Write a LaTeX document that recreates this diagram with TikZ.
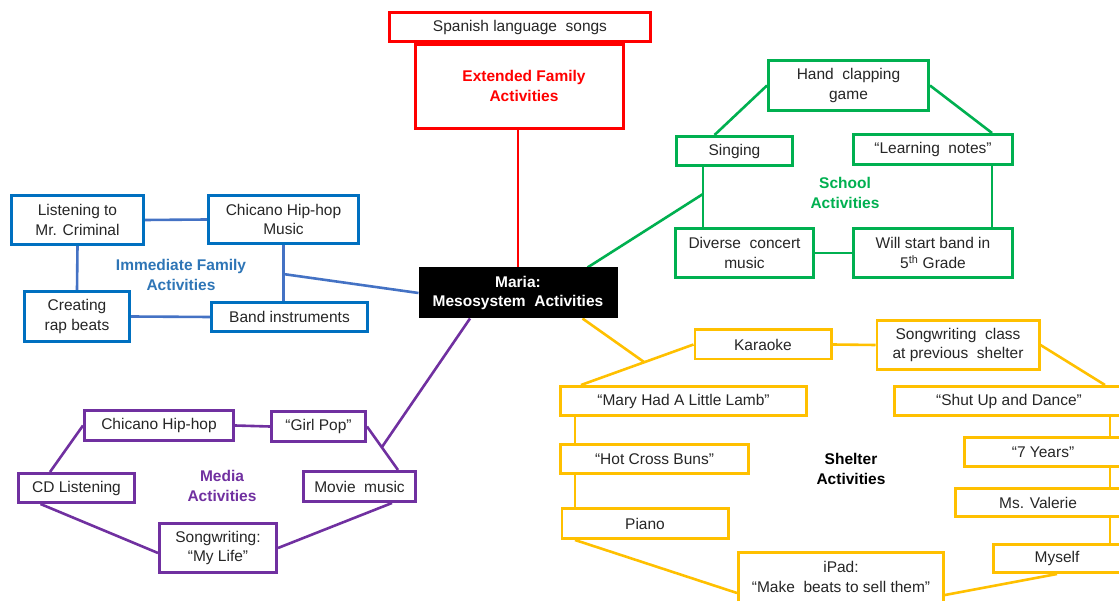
\documentclass[tikz,border=0pt]{standalone}
\usepackage{fontspec}
\setmainfont{Liberation Sans}
\usetikzlibrary{backgrounds}
\definecolor{mesoRed}{HTML}{FF0000}
\definecolor{mesoGreen}{HTML}{00B050}
\definecolor{mesoBlue}{HTML}{0070C0}
\definecolor{mesoBlueLine}{HTML}{4472C4}
\definecolor{mesoBlueText}{HTML}{2E75B6}
\definecolor{mesoPurple}{HTML}{7030A0}
\definecolor{mesoGold}{HTML}{FFC000}
\definecolor{mesoInk}{HTML}{262626}

\tikzset{
  box/.style={draw,fill=white,line width=2.6pt,align=center,inner sep=1pt,text=mesoInk},
  wh/.style 2 args={minimum width=#1pt-2.6pt,minimum height=#2pt-2.6pt},
  redbox/.style={box,draw=mesoRed},
  greenbox/.style={box,draw=mesoGreen},
  bluebox/.style={box,draw=mesoBlue},
  purplebox/.style={box,draw=mesoPurple},
  goldbox/.style={box,draw=mesoGold},
  grouplabel/.style={font=\fontsize{15.5}{19.5}\selectfont\bfseries,align=center},
  link/.style={line width=2.6pt}
}

\begin{document}
\begin{tikzpicture}[x=1pt,y=-1pt,font=\fontsize{15.5}{19.5}\selectfont]
  \useasboundingbox (0,0) rectangle (1119,601);
  \clip (0,0) rectangle (1119,601);

  % centre
  \node[box,fill=black,draw=black,text=white,font=\fontsize{15.5}{19.5}\selectfont\bfseries,wh={199}{51}]
    (maria) at (518,293) {Maria:\\Mesosystem\ \ Activities};

  % extended family
  \node[redbox,wh={211}{87}] (ext) at (519.5,86.5) {};
  \node[grouplabel,text=mesoRed] (extlab) at (524,86) {Extended Family\\Activities};
  \node[redbox,wh={264}{32}] (span) at (520,27) {Spanish language\ \ songs};

  % school
  \node[greenbox,wh={163}{53}] (clap) at (848.5,85.5) {Hand\ \ clapping\\game};
  \node[greenbox,wh={119}{32}] (sing) at (734.5,151) {Singing};
  \node[greenbox,wh={162}{33}] (notes) at (933,149.5) {“Learning\ \ notes”};
  \node[greenbox,wh={141}{52}] (diverse) at (744.5,253) {Diverse\ \ concert\\music};
  \node[greenbox,wh={162}{52}] (band5) at (933,253) {Will start band in\\5\textsuperscript{th} Grade};
  \node[grouplabel,text=mesoGreen] (schoollab) at (845,193) {School\\Activities};

  % immediate family
  \node[bluebox,wh={135}{52}] (listen) at (77.5,220) {Listening to\\Mr. Criminal};
  \node[bluebox,wh={153}{51}] (chicB) at (283.5,219.5) {Chicano Hip-hop\\Music};
  \node[bluebox,wh={108}{53}] (rap) at (77,316.5) {Creating\\rap beats};
  \node[bluebox,wh={159}{32}] (bandI) at (289.5,317) {Band instruments};
  \node[grouplabel,text=mesoBlueText] (famlab) at (181,275) {Immediate Family\\Activities};

  % media
  \node[purplebox,wh={152}{33}] (chicP) at (159,425.5) {Chicano Hip-hop};
  \node[purplebox,wh={97}{33}] (girl) at (318.5,426.5) {“Girl Pop”};
  \node[purplebox,wh={119}{32}] (cd) at (76.5,488) {CD Listening};
  \node[purplebox,wh={115}{33}] (movie) at (359.5,486.5) {Movie\ \ music};
  \node[purplebox,wh={120}{52}] (song) at (218,548) {Songwriting:\\“My Life”};
  \node[grouplabel,text=mesoPurple] (medialab) at (222,486) {Media\\Activities};

  % shelter
  \node[goldbox,wh={139}{32}] (kara) at (763,344.5) {Karaoke};
  \node[goldbox,wh={165}{52}] (swc) at (958,345) {Songwriting\ \ class\\at previous\ \ shelter};
  \node[goldbox,wh={249}{32}] (mary) at (683.5,401) {“Mary Had A Little Lamb”};
  \node[goldbox,wh={191}{32}] (hot) at (654.5,459) {“Hot Cross Buns”};
  \node[goldbox,wh={169}{33}] (piano) at (645,523.5) {Piano};
  \node[goldbox,wh={208}{66},text depth=14pt] (ipad) at (841,584) {iPad:\\“Make\ \ beats to sell them”};
  \node[goldbox,wh={232}{32}] (shut) at (1009,401) {“Shut Up and Dance”};
  \node[goldbox,wh={160}{32}] (seven) at (1043,452) {“7 Years”};
  \node[goldbox,wh={168}{31}] (val) at (1038,502.5) {Ms. Valerie};
  \node[goldbox,wh={130}{31}] (myself) at (1057,558.5) {Myself};
  \node[grouplabel,text=black] (shelterlab) at (851,469) {Shelter\\Activities};

  \coordinate (gjoin) at (703,194);
  \coordinate (bjoin) at (283,274);
  \coordinate (pjoin) at (382,447);
  \coordinate (yjoin) at (644,362);
  \coordinate (grail) at (992,0);
  \coordinate (yrail) at (1110,0);

  \begin{scope}[on background layer]
    \draw[link,mesoRed] (ext.south -| maria.north) -- (maria.north);

    \draw[link,mesoGreen] ([xshift=-30pt]maria.north east) -- (gjoin);
    \draw[link,mesoGreen] (clap.west) -- ([xshift=-20pt]sing.north);
    \draw[link,mesoGreen] (clap.east) -- (notes.north -| grail);
    \draw[link,mesoGreen] ([xshift=-31.5pt]sing.south) -- ([xshift=-41.5pt]diverse.north);
    \draw[link,mesoGreen] (notes.south -| grail) -- (band5.north -| grail);
    \draw[link,mesoGreen] (diverse.east) -- (band5.west);

    \draw[link,mesoBlueLine] (bjoin) -- (maria.west);
    \draw[link,mesoBlueLine] (listen.east) -- (chicB.west);
    \draw[link,mesoBlueLine] (listen.south) -- (rap.north);
    \draw[link,mesoBlueLine] (rap.east) -- (bandI.west);
    \draw[link,mesoBlueLine] (chicB.south) -- (chicB.south |- bandI.north);

    \draw[link,mesoPurple] ([xshift=-48pt]maria.south) -- (pjoin);
    \draw[link,mesoPurple] (chicP.east) -- (girl.west);
    \draw[link,mesoPurple] ([xshift=-26.5pt]cd.north) -- (chicP.west);
    \draw[link,mesoPurple] (girl.east) -- ([xshift=38.5pt]movie.north);
    \draw[link,mesoPurple] ([xshift=-36pt]cd.south) -- ([yshift=-5pt]song.west);
    \draw[link,mesoPurple] ([xshift=32.5pt]movie.south) -- (song.east);

    \draw[link,mesoGold] ([xshift=-35pt]maria.south east) -- (yjoin);
    \draw[link,mesoGold] (kara.west) -- ([xshift=-102.5pt]mary.north);
    \draw[link,mesoGold] (kara.east) -- (swc.west);
    \draw[link,mesoGold] (swc.east) -- ([xshift=96pt]shut.north);
    \draw[link,mesoGold] ([xshift=-108.5pt]mary.south) -- ([xshift=-79.5pt]hot.north);
    \draw[link,mesoGold] ([xshift=-79.5pt]hot.south) -- ([xshift=-70pt]piano.north);
    \draw[link,mesoGold] ([xshift=14.5pt]piano.south west) -- ([yshift=-9pt]ipad.west);
    \draw[link,mesoGold] ([yshift=-11pt]ipad.east) -- (myself.south);
    \draw[link,mesoGold] (shut.south -| yrail) -- (seven.north -| yrail);
    \draw[link,mesoGold] (seven.south -| yrail) -- (val.north -| yrail);
    \draw[link,mesoGold] (val.south -| yrail) -- (myself.north -| yrail);
  \end{scope}
\end{tikzpicture}
\end{document}
